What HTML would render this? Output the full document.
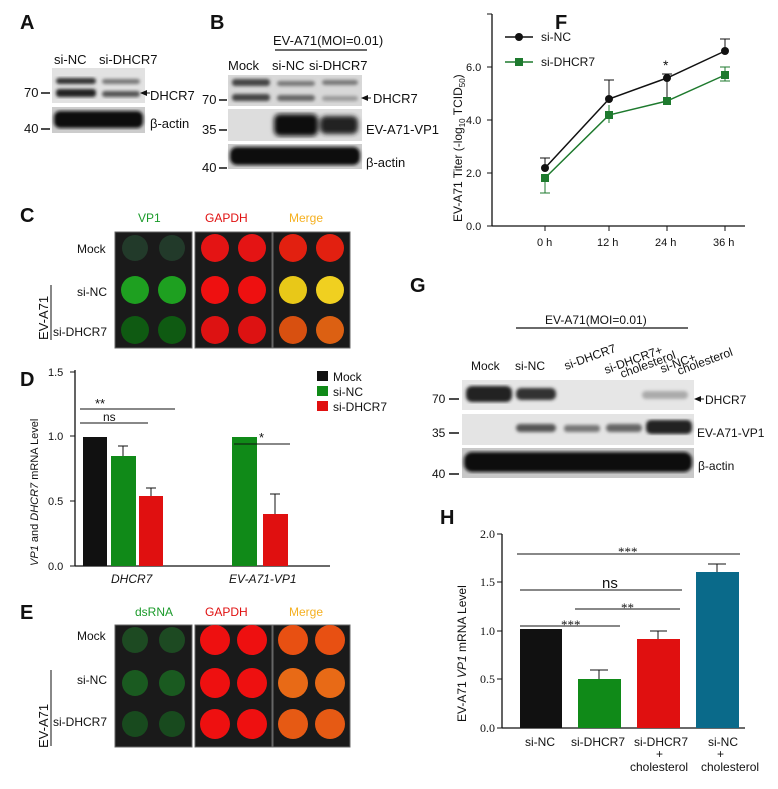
<!DOCTYPE html>
<html><head><style>
body{margin:0;background:#fff;width:778px;height:784px;overflow:hidden}
svg{font-family:"Liberation Sans",Arial,sans-serif}
.s{font-family:"Liberation Serif",serif}
</style></head><body>
<svg width="778" height="784" viewBox="0 0 778 784" xmlns="http://www.w3.org/2000/svg">
<defs>
<filter id="bl"><feGaussianBlur stdDeviation="2.5"/></filter>
<filter id="bl1"><feGaussianBlur stdDeviation="1.5"/></filter>
</defs>
<g font-weight="bold" font-size="20" fill="#111">
<text x="20" y="29">A</text><text x="210" y="29">B</text><text x="20" y="222">C</text>
<text x="20" y="386">D</text><text x="20" y="619">E</text><text x="555" y="29">F</text>
<text x="410" y="292">G</text><text x="440" y="524">H</text></g>

<!-- A -->
<g font-size="13" fill="#111">
<text x="54" y="64">si-NC</text><text x="99" y="64">si-DHCR7</text>
<rect x="52" y="68" width="93" height="35" fill="#e2e2e2"/>
<g filter="url(#bl1)"><rect x="56" y="78" width="40" height="6" rx="3" fill="#333"/><rect x="56" y="89" width="40" height="8" rx="3" fill="#222"/>
<rect x="102" y="79" width="38" height="5" rx="3" fill="#777"/><rect x="102" y="91" width="38" height="6" rx="3" fill="#555"/></g>
<rect x="52" y="107" width="93" height="26" fill="#ccc"/>
<rect x="54" y="111" width="89" height="17" rx="6" fill="#111" filter="url(#bl1)"/>
<text x="24" y="97">70</text><line x1="41" y1="93" x2="50" y2="93" stroke="#111" stroke-width="1.5"/>
<text x="24" y="133">40</text><line x1="41" y1="129" x2="50" y2="129" stroke="#111" stroke-width="1.5"/>
<text x="150" y="100">DHCR7</text><path d="M140 93 l7 -3 v6z" fill="#111"/><line x1="143" y1="93" x2="150" y2="93" stroke="#111"/>
<text x="150" y="128">β-actin</text>
</g>

<!-- B -->
<g font-size="13" fill="#111">
<text x="273" y="45">EV-A71(MOI=0.01)</text><line x1="275" y1="50" x2="367" y2="50" stroke="#111" stroke-width="1.2"/>
<text x="228" y="70">Mock</text><text x="272" y="70">si-NC</text><text x="309" y="70">si-DHCR7</text>
<rect x="228" y="75" width="134" height="31" fill="#d8d8d8"/>
<g filter="url(#bl1)"><rect x="232" y="79" width="38" height="7" rx="3" fill="#444"/><rect x="232" y="94" width="38" height="7" rx="3" fill="#444"/>
<rect x="277" y="81" width="38" height="5" rx="3" fill="#777"/><rect x="277" y="95" width="38" height="6" rx="3" fill="#666"/>
<rect x="322" y="80" width="36" height="5" rx="3" fill="#777"/><rect x="322" y="96" width="36" height="5" rx="3" fill="#999"/></g>
<rect x="228" y="109" width="134" height="32" fill="#ddd"/>
<g filter="url(#bl)"><rect x="274" y="114" width="44" height="22" rx="6" fill="#111"/><rect x="320" y="116" width="38" height="18" rx="6" fill="#222"/></g>
<rect x="228" y="144" width="134" height="25" fill="#ccc"/>
<rect x="230" y="147" width="130" height="18" rx="7" fill="#111" filter="url(#bl1)"/>
<text x="202" y="104">70</text><line x1="219" y1="100" x2="227" y2="100" stroke="#111" stroke-width="1.5"/>
<text x="202" y="134">35</text><line x1="219" y1="130" x2="227" y2="130" stroke="#111" stroke-width="1.5"/>
<text x="202" y="172">40</text><line x1="219" y1="168" x2="227" y2="168" stroke="#111" stroke-width="1.5"/>
<path d="M361 98 l7 -3 v6z" fill="#111"/><line x1="364" y1="98" x2="371" y2="98" stroke="#111"/>
<text x="373" y="103">DHCR7</text><text x="366" y="134">EV-A71-VP1</text><text x="366" y="167">β-actin</text>
</g>

<!-- C -->
<g font-size="12">
<text x="138" y="222" fill="#1a9a2a">VP1</text><text x="205" y="222" fill="#e01010">GAPDH</text><text x="289" y="222" fill="#f5b020">Merge</text>
<g fill="#111"><text x="77" y="253">Mock</text><text x="77" y="296">si-NC</text><text x="53" y="336">si-DHCR7</text>
<text transform="translate(48,340) rotate(-90)" font-size="13">EV-A71</text></g>
<line x1="51" y1="285" x2="51" y2="340" stroke="#111"/>
<rect x="115" y="232" width="77" height="116" fill="#1a1a1a" stroke="#666"/>
<rect x="195" y="232" width="77" height="116" fill="#1a1a1a" stroke="#666"/>
<rect x="273" y="232" width="77" height="116" fill="#1a1a1a" stroke="#666"/>
<g>
<circle cx="135" cy="248" r="13" fill="#223a2a"/><circle cx="172" cy="248" r="13" fill="#223a2a"/>
<circle cx="135" cy="290" r="14" fill="#1ea020"/><circle cx="172" cy="290" r="14" fill="#1ea020"/>
<circle cx="135" cy="330" r="14" fill="#0f5a12"/><circle cx="172" cy="330" r="14" fill="#0f5a12"/>
<circle cx="215" cy="248" r="14" fill="#e41414"/><circle cx="252" cy="248" r="14" fill="#e41414"/>
<circle cx="215" cy="290" r="14" fill="#ee1010"/><circle cx="252" cy="290" r="14" fill="#ee1010"/>
<circle cx="215" cy="330" r="14" fill="#dd1212"/><circle cx="252" cy="330" r="14" fill="#dd1212"/>
<circle cx="293" cy="248" r="14" fill="#e22010"/><circle cx="330" cy="248" r="14" fill="#e22010"/>
<circle cx="293" cy="290" r="14" fill="#e8c818"/><circle cx="330" cy="290" r="14" fill="#f0d020"/>
<circle cx="293" cy="330" r="14" fill="#d85010"/><circle cx="330" cy="330" r="14" fill="#dc6012"/>
</g></g>

<!-- D -->
<g font-size="11" fill="#111">
<line x1="75" y1="370" x2="75" y2="566" stroke="#111" stroke-width="1.3"/>
<line x1="75" y1="566" x2="330" y2="566" stroke="#111" stroke-width="1.3"/>
<g stroke="#111"><line x1="70" y1="372" x2="75" y2="372"/><line x1="70" y1="436" x2="75" y2="436"/><line x1="70" y1="501" x2="75" y2="501"/><line x1="70" y1="566" x2="75" y2="566"/></g>
<text x="48" y="376">1.5</text><text x="48" y="440">1.0</text><text x="48" y="505">0.5</text><text x="48" y="570">0.0</text>
<rect x="83" y="437" width="24" height="129" fill="#111"/>
<rect x="111" y="456" width="25" height="110" fill="#108a18"/>
<rect x="139" y="496" width="24" height="70" fill="#e01010"/>
<rect x="232" y="437" width="25" height="129" fill="#108a18"/>
<rect x="263" y="514" width="25" height="52" fill="#e01010"/>
<g stroke="#111" fill="none"><path d="M123 456V446M118 446h10M151 496v-8M146 488h10M275 514v-20M270 494h10"/></g>
<line x1="80" y1="409" x2="175" y2="409" stroke="#111"/><line x1="80" y1="423" x2="148" y2="423" stroke="#111"/>
<line x1="234" y1="444" x2="290" y2="444" stroke="#111"/>
<text x="95" y="408" font-size="13">**</text><text x="103" y="421" font-size="12">ns</text><text x="259" y="442" font-size="13">*</text>
<text x="111" y="583" font-style="italic" font-size="12">DHCR7</text><text x="229" y="583" font-style="italic" font-size="12">EV-A71-VP1</text>
<text transform="translate(38,566) rotate(-90)" font-size="11"><tspan font-style="italic">VP1</tspan> and <tspan font-style="italic">DHCR7</tspan> mRNA Level</text>
<rect x="317" y="371" width="11" height="10" fill="#111"/><text x="333" y="381" font-size="12">Mock</text>
<rect x="317" y="386" width="11" height="10" fill="#108a18"/><text x="333" y="396" font-size="12">si-NC</text>
<rect x="317" y="401" width="11" height="10" fill="#e01010"/><text x="333" y="411" font-size="12">si-DHCR7</text>
</g>

<!-- E -->
<g font-size="12">
<text x="135" y="616" fill="#1a9a2a">dsRNA</text><text x="205" y="616" fill="#e01010">GAPDH</text><text x="289" y="616" fill="#f5b020">Merge</text>
<g fill="#111"><text x="77" y="640">Mock</text><text x="77" y="684">si-NC</text><text x="53" y="726">si-DHCR7</text>
<text transform="translate(48,748) rotate(-90)" font-size="13">EV-A71</text></g>
<line x1="51" y1="670" x2="51" y2="746" stroke="#111"/>
<rect x="115" y="625" width="77" height="122" fill="#1a1a1a" stroke="#666"/>
<rect x="195" y="625" width="77" height="122" fill="#1a1a1a" stroke="#666"/>
<rect x="273" y="625" width="77" height="122" fill="#1a1a1a" stroke="#666"/>
<circle cx="135" cy="640" r="13" fill="#1d4a22"/><circle cx="172" cy="640" r="13" fill="#1d4a22"/>
<circle cx="135" cy="683" r="13" fill="#1a5a20"/><circle cx="172" cy="683" r="13" fill="#1a5a20"/>
<circle cx="135" cy="724" r="13" fill="#184a1e"/><circle cx="172" cy="724" r="13" fill="#184a1e"/>
<circle cx="215" cy="640" r="15" fill="#ee1010"/><circle cx="252" cy="640" r="15" fill="#ee1010"/>
<circle cx="215" cy="683" r="15" fill="#ee1010"/><circle cx="252" cy="683" r="15" fill="#ee1010"/>
<circle cx="215" cy="724" r="15" fill="#ee1010"/><circle cx="252" cy="724" r="15" fill="#ee1010"/>
<circle cx="293" cy="640" r="15" fill="#e85012"/><circle cx="330" cy="640" r="15" fill="#e85012"/>
<circle cx="293" cy="683" r="15" fill="#e86a16"/><circle cx="330" cy="683" r="15" fill="#e86a16"/>
<circle cx="293" cy="724" r="15" fill="#e65a14"/><circle cx="330" cy="724" r="15" fill="#e65a14"/>
</g>

<!-- F -->
<g font-size="11" fill="#111">
<line x1="492" y1="14" x2="492" y2="226" stroke="#111" stroke-width="1.3"/>
<line x1="492" y1="226" x2="745" y2="226" stroke="#111" stroke-width="1.3"/>
<g stroke="#111"><line x1="487" y1="14" x2="492" y2="14"/><line x1="487" y1="67" x2="492" y2="67"/><line x1="487" y1="120" x2="492" y2="120"/><line x1="487" y1="173" x2="492" y2="173"/><line x1="487" y1="226" x2="492" y2="226"/>
<line x1="545" y1="226" x2="545" y2="231"/><line x1="609" y1="226" x2="609" y2="231"/><line x1="667" y1="226" x2="667" y2="231"/><line x1="725" y1="226" x2="725" y2="231"/></g>
<text x="466" y="71">6.0</text><text x="466" y="124">4.0</text><text x="466" y="177">2.0</text><text x="466" y="230">0.0</text>
<text x="537" y="246">0 h</text><text x="597" y="246">12 h</text><text x="655" y="246">24 h</text><text x="713" y="246">36 h</text>
<text transform="translate(462,222) rotate(-90)" font-size="12">EV-A71 Titer  (-log<tspan font-size="8" dy="3">10</tspan><tspan dy="-3"> TCID</tspan><tspan font-size="8" dy="3">50</tspan><tspan dy="-3">)</tspan></text>
<g stroke="#111" fill="none"><path d="M545 168v-10M540 158h10M609 100v-20M604 80h10M667 98v-24M662 74h10M725 51v-12M720 39h10"/></g>
<g stroke="#1e7a2e" fill="none"><path d="M545 187v-10M545 187v6M540 193h10M609 115v-10M609 115v8M667 102v-4M725 75v-8M720 67h10M725 75v6M720 81h10"/></g>
<polyline points="545,168 609,99 667,78 725,51" fill="none" stroke="#111" stroke-width="1.5"/>
<polyline points="545,178 609,115 667,101 725,75" fill="none" stroke="#1e7a2e" stroke-width="1.5"/>
<g fill="#111"><circle cx="545" cy="168" r="4"/><circle cx="609" cy="99" r="4"/><circle cx="667" cy="78" r="4"/><circle cx="725" cy="51" r="4"/></g>
<g fill="#1e7a2e"><rect x="541" y="174" width="8" height="8"/><rect x="605" y="111" width="8" height="8"/><rect x="663" y="97" width="8" height="8"/><rect x="721" y="71" width="8" height="8"/></g>
<text x="663" y="70" font-size="14">*</text>
<line x1="505" y1="37" x2="533" y2="37" stroke="#111" stroke-width="1.5"/><circle cx="519" cy="37" r="4" fill="#111"/><text x="541" y="41" font-size="12">si-NC</text>
<line x1="505" y1="62" x2="533" y2="62" stroke="#1e7a2e" stroke-width="1.5"/><rect x="515" y="58" width="8" height="8" fill="#1e7a2e"/><text x="541" y="66" font-size="12">si-DHCR7</text>
</g>

<!-- G -->
<g font-size="12" fill="#111">
<text x="545" y="324">EV-A71(MOI=0.01)</text><line x1="516" y1="328" x2="688" y2="328" stroke="#111" stroke-width="1.2"/>
<text x="471" y="370">Mock</text><text x="515" y="370">si-NC</text>
<text transform="translate(566,370) rotate(-20)">si-DHCR7</text>
<text transform="translate(606,374) rotate(-20)">si-DHCR7+</text><text transform="translate(622,378) rotate(-20)">cholesterol</text>
<text transform="translate(662,373) rotate(-20)">si-NC+</text><text transform="translate(679,375) rotate(-20)">cholesterol</text>
<rect x="462" y="380" width="232" height="30" fill="#e6e6e6"/>
<g filter="url(#bl1)"><rect x="466" y="386" width="46" height="16" rx="6" fill="#222"/><rect x="516" y="388" width="40" height="12" rx="5" fill="#333"/><rect x="642" y="391" width="46" height="8" rx="4" fill="#aaa"/></g>
<rect x="462" y="414" width="232" height="31" fill="#e4e4e4"/>
<g filter="url(#bl1)"><rect x="516" y="424" width="40" height="8" rx="4" fill="#555"/><rect x="564" y="425" width="36" height="7" rx="3" fill="#777"/><rect x="606" y="424" width="36" height="8" rx="4" fill="#666"/><rect x="646" y="420" width="46" height="14" rx="5" fill="#222"/></g>
<rect x="462" y="448" width="232" height="30" fill="#c8c8c8"/>
<rect x="464" y="452" width="228" height="20" rx="8" fill="#111" filter="url(#bl1)"/>
<text x="432" y="403">70</text><line x1="449" y1="399" x2="459" y2="399" stroke="#111" stroke-width="1.5"/>
<text x="432" y="437">35</text><line x1="449" y1="433" x2="459" y2="433" stroke="#111" stroke-width="1.5"/>
<text x="432" y="478">40</text><line x1="449" y1="474" x2="459" y2="474" stroke="#111" stroke-width="1.5"/>
<path d="M694 399 l7 -3 v6z" fill="#111"/><line x1="697" y1="399" x2="704" y2="399" stroke="#111"/>
<text x="705" y="404">DHCR7</text><text x="697" y="437">EV-A71-VP1</text><text x="698" y="470">β-actin</text>
</g>

<!-- H -->
<g font-size="11" fill="#111">
<line x1="502" y1="534" x2="502" y2="728" stroke="#111" stroke-width="1.3"/>
<line x1="502" y1="728" x2="745" y2="728" stroke="#111" stroke-width="1.3"/>
<g stroke="#111"><line x1="497" y1="534" x2="502" y2="534"/><line x1="497" y1="582" x2="502" y2="582"/><line x1="497" y1="631" x2="502" y2="631"/><line x1="497" y1="679" x2="502" y2="679"/><line x1="497" y1="728" x2="502" y2="728"/></g>
<g class="s" font-size="12" text-anchor="end"><text x="495" y="538">2.0</text><text x="495" y="586">1.5</text><text x="495" y="635">1.0</text><text x="495" y="683">0.5</text><text x="495" y="732">0.0</text></g>
<rect x="520" y="629" width="42" height="99" fill="#111"/>
<rect x="578" y="679" width="43" height="49" fill="#108a18"/>
<rect x="637" y="639" width="43" height="89" fill="#e01010"/>
<rect x="696" y="572" width="43" height="156" fill="#0a6a8a"/>
<g stroke="#111" fill="none"><path d="M599 679v-9M590 670h18M658 639v-8M650 631h17M717 572v-8M708 564h18"/></g>
<g stroke="#111"><line x1="517" y1="554" x2="740" y2="554"/><line x1="520" y1="590" x2="682" y2="590"/><line x1="575" y1="609" x2="680" y2="609"/><line x1="520" y1="626" x2="620" y2="626"/></g>
<g class="s" font-size="13"><text x="618" y="556">***</text><text x="621" y="612">**</text><text x="561" y="629">***</text></g>
<text x="602" y="588" font-size="15">ns</text>
<g font-size="12"><text x="525" y="746">si-NC</text><text x="571" y="746">si-DHCR7</text><text x="634" y="746">si-DHCR7</text><text x="708" y="746">si-NC</text>
<text x="656" y="758">+</text><text x="717" y="758">+</text><text x="630" y="771">cholesterol</text><text x="701" y="771">cholesterol</text></g>
<text transform="translate(466,722) rotate(-90)" font-size="12">EV-A71 <tspan font-style="italic">VP1</tspan> mRNA  Level</text>
</g>
</svg>
</body></html>
